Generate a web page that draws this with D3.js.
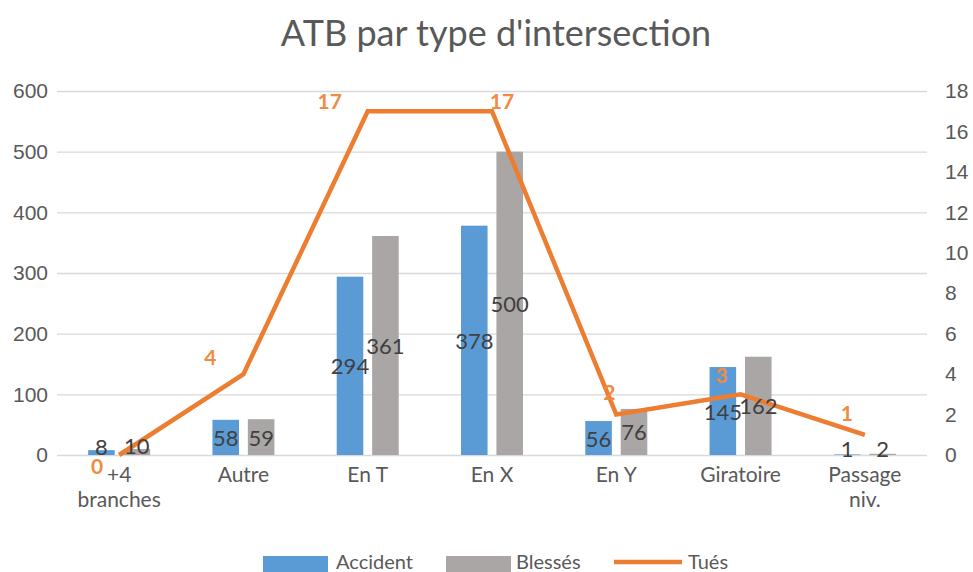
<!DOCTYPE html>
<html><head><meta charset="utf-8">
<script src="https://cdn.jsdelivr.net/npm/d3@7"></script>
<style>body{margin:0;background:#fff}svg{display:block;font-family:Lato,"Open Sans",sans-serif}</style>
</head><body><svg id="c" width="973" height="572"></svg>
<script>
const categories = [["+4","branches"],["Autre"],["En T"],["En X"],["En Y"],["Giratoire"],["Passage","niv."]];
const accident = [8, 58, 294, 378, 56, 145, 1];
const blesses = [10, 59, 361, 500, 76, 162, 2];
const tues = [0, 4, 17, 17, 2, 3, 1];
const leftTicks = [0,100,200,300,400,500,600];
const rightTicks = [0,2,4,6,8,10,12,14,16,18];
const seriesNames = ["Accident","Blessés","Tués"];

const colors = {Accident:"#5B9BD5", "Blessés":"#A9A6A5", "Tués":"#ED7D31"};
const svg = d3.select("#c");
const L = 57, R = 927, T = 91, B = 455;
const keys = categories.map(c => c.join(" "));
const x = d3.scaleBand().domain(keys).range([L, R]);
const xc = k => x(k) + x.bandwidth()/2;
const xs = d3.scaleBand().domain(["Accident","Blessés"]).range([-31, 31]).paddingInner(0.25);
const yL = d3.scaleLinear().domain([0,600]).range([B, T]);
const yR = d3.scaleLinear().domain([0,18]).range([B, T]);

// title
svg.append("text").attr("x", 496).attr("y", 46).attr("text-anchor","middle")
  .attr("font-size", 36).attr("fill","#595959").text("ATB par type d'intersection");

// grid + left axis
const gL = svg.append("g").attr("transform",`translate(${L},0)`)
  .call(d3.axisLeft(yL).tickValues(leftTicks).tickSize(-(R-L)).tickPadding(9));
gL.select(".domain").remove();
gL.selectAll(".tick line").attr("stroke","#d9d9d9").attr("stroke-width",1.3);
gL.selectAll(".tick text").attr("font-size",21).attr("fill","#595959").attr("font-family","inherit");

const gR = svg.append("g").attr("transform",`translate(${R},0)`)
  .call(d3.axisRight(yR).tickValues(rightTicks).tickSize(0).tickPadding(18));
gR.select(".domain").remove();
gR.selectAll(".tick text").attr("font-size",21).attr("fill","#595959").attr("font-family","inherit");

// x labels
const xl = svg.append("g");
categories.forEach((c,i) => {
  const t = xl.append("text").attr("x", xc(keys[i])).attr("y", 482)
    .attr("text-anchor","middle").attr("font-size",21).attr("fill","#595959");
  c.forEach((line,j) => t.append("tspan").attr("x", xc(keys[i])).attr("dy", j ? 25 : 0).text(line));
});

// bars
const data = keys.map((k,i) => ({k, Accident: accident[i], "Blessés": blesses[i], "Tués": tues[i]}));
["Accident","Blessés"].forEach(s => {
  svg.append("g").selectAll("rect").data(data).join("rect")
    .attr("x", d => xc(d.k) + xs(s)).attr("width", xs.bandwidth())
    .attr("y", d => yL(d[s])).attr("height", d => B - yL(d[s]))
    .attr("fill", colors[s]);
});

// line
const line = d3.line().x(d => xc(d.k)).y(d => yR(d["Tués"]));
svg.append("path").datum(data).attr("d", line).attr("fill","none")
  .attr("stroke", colors["Tués"]).attr("stroke-width", 4.5).attr("stroke-linejoin","miter");

// bar labels
["Accident","Blessés"].forEach(s => {
  svg.append("g").selectAll("text").data(data).join("text")
    .attr("x", d => xc(d.k) + xs(s) + xs.bandwidth()/2)
    .attr("y", d => (yL(d[s]) + B)/2 - (d[s] < 20 ? 6 : 0))
    .attr("dominant-baseline","central").attr("text-anchor","middle")
    .attr("font-size",22).attr("fill","#404040").text(d => d[s]);
});

// Tués labels
const lblOff = [[-22,10],[-33,-18],[-38,-11],[10,-11],[-7,-23],[-19,-20],[-18,-22]];
svg.append("g").selectAll("text").data(data).join("text")
  .attr("x", (d,i) => xc(d.k) + lblOff[i][0])
  .attr("y", (d,i) => yR(d["Tués"]) + lblOff[i][1])
  .attr("dominant-baseline","central").attr("text-anchor","middle")
  .attr("font-size",21).attr("font-weight","bold").attr("fill","#F08A45").text(d => d["Tués"]);

// legend
const lg = svg.append("g");
const items = [{n:"Accident", x:263, tx:336},{n:"Blessés", x:446, tx:516},{n:"Tués", x:614, tx:688}];
items.forEach(it => {
  if (it.n === "Tués") {
    lg.append("line").attr("x1", it.x).attr("x2", it.x+68).attr("y1",562).attr("y2",562)
      .attr("stroke", colors[it.n]).attr("stroke-width",4.5);
  } else {
    lg.append("rect").attr("x", it.x).attr("y", 556).attr("width", 65).attr("height", 16).attr("fill", colors[it.n]);
  }
  lg.append("text").attr("x", it.tx).attr("y", 561).attr("dominant-baseline","central")
    .attr("font-size",20).attr("fill","#595959").text(it.n);
});
</script></body></html>
